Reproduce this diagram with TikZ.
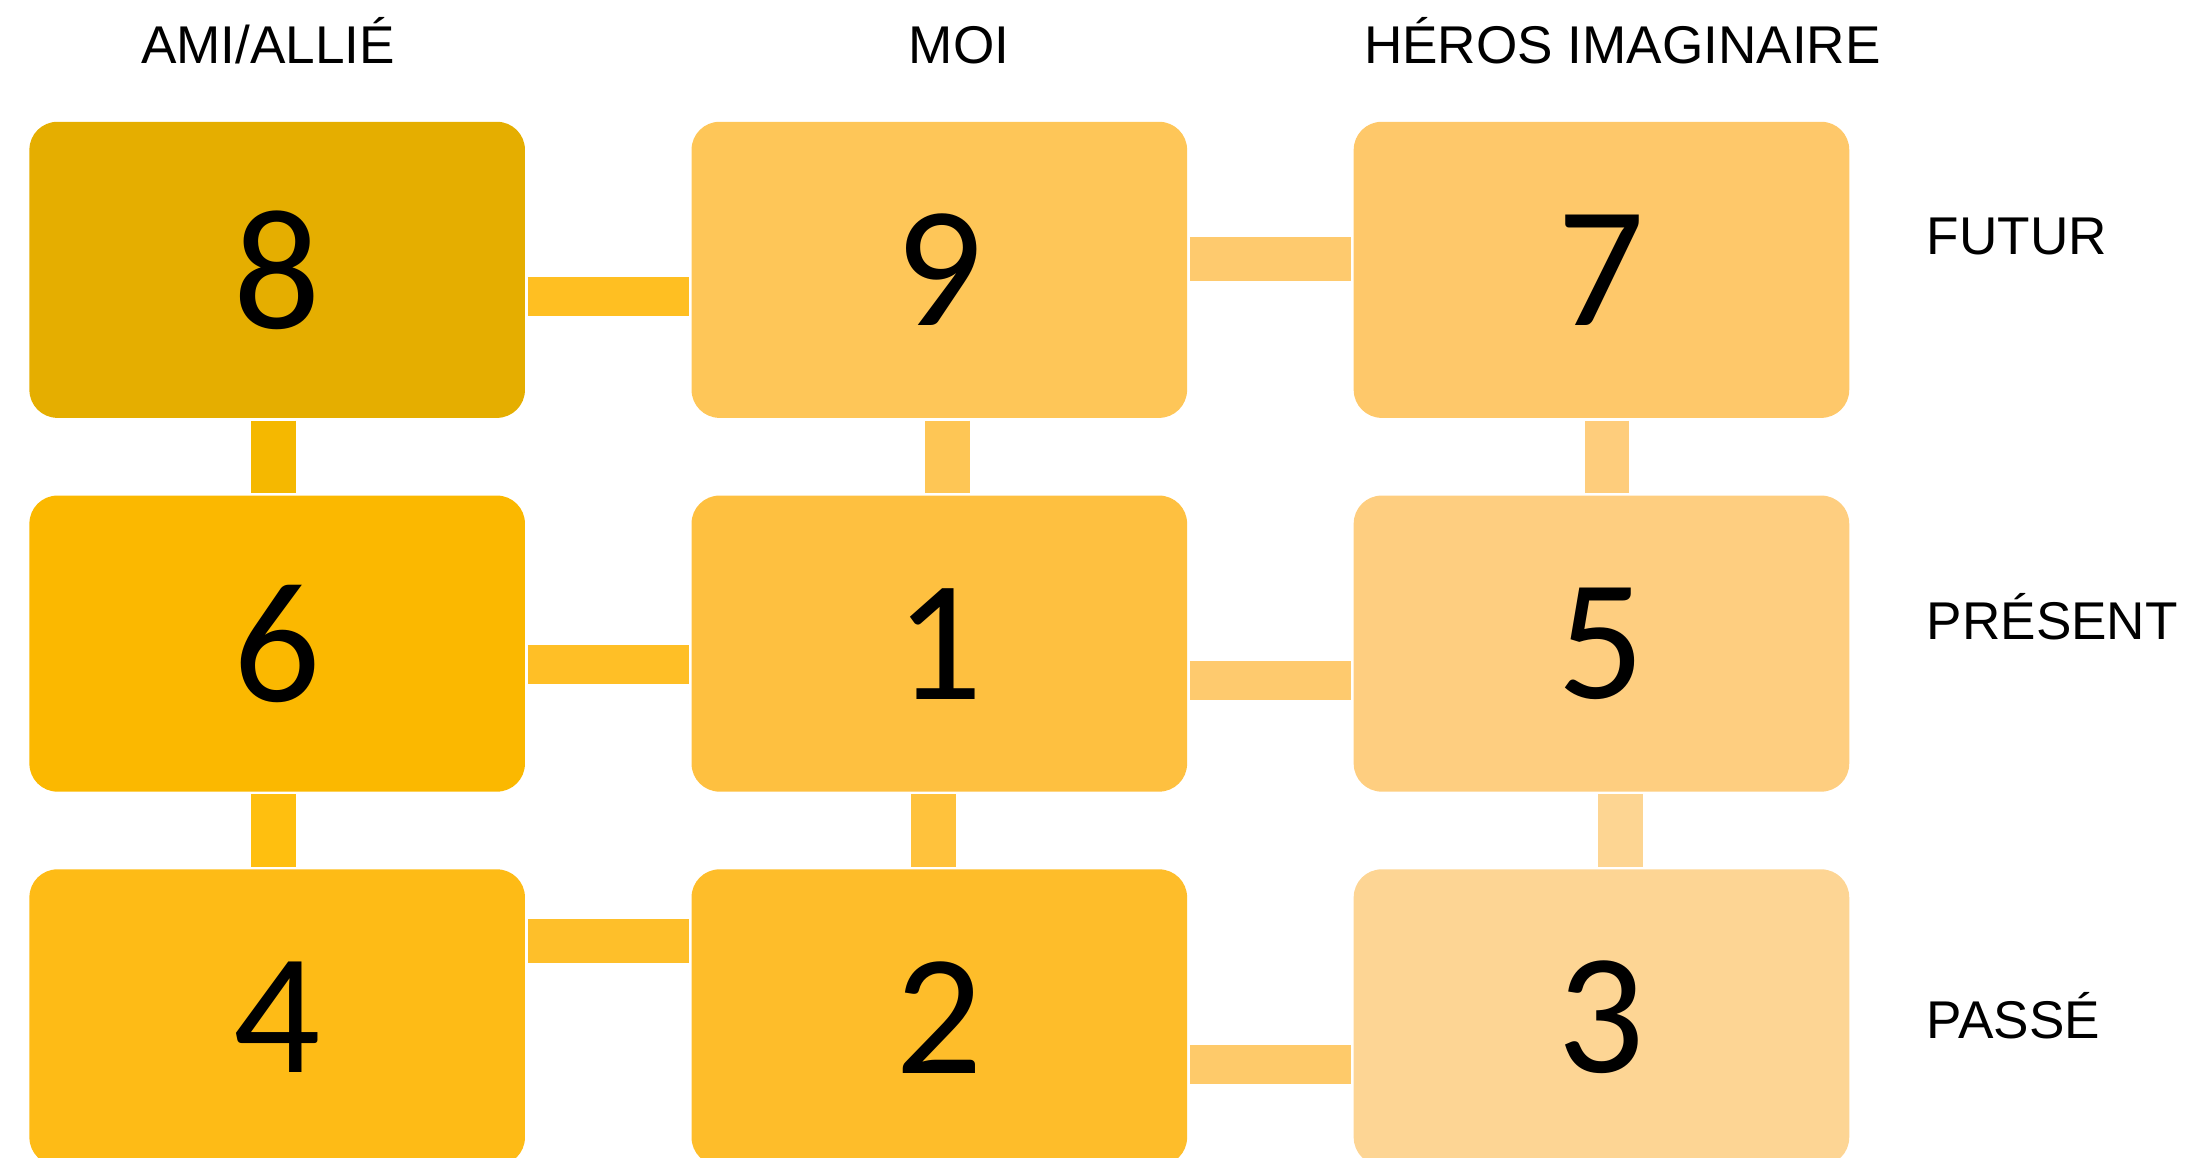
\documentclass[tikz,border=0pt]{standalone}
\usepackage{fontspec}
\setmainfont{Liberation Sans}
\newfontfamily\numfont{Carlito}
\usepackage{tikz}
\usetikzlibrary{positioning}
\definecolor{c8}{HTML}{E5AE00}
\definecolor{c9}{HTML}{FEC658}
\definecolor{c7}{HTML}{FEC86A}
\definecolor{c6}{HTML}{FBB800}
\definecolor{c1}{HTML}{FEC040}
\definecolor{c5}{HTML}{FECE80}
\definecolor{c4}{HTML}{FEBB16}
\definecolor{c2}{HTML}{FEBD2A}
\definecolor{c3}{HTML}{FDD594}
\definecolor{k89}{HTML}{FFBF22}
\definecolor{k97}{HTML}{FECA6E}
\definecolor{k86}{HTML}{F5B800}
\definecolor{k91}{HTML}{FEC655}
\definecolor{k75}{HTML}{FECD7C}
\definecolor{k61}{HTML}{FFBF26}
\definecolor{k15}{HTML}{FECA6E}
\definecolor{k64}{HTML}{FFBF0F}
\definecolor{k12}{HTML}{FFC23C}
\definecolor{k53}{HTML}{FDD592}
\definecolor{k42}{HTML}{FEBF2A}
\definecolor{k23}{HTML}{FECA6A}
\tikzset{
  cell/.style  = {rectangle, rounded corners=4mm, minimum width=70.8mm, minimum height=42.3mm,
                  inner sep=0pt, outer sep=0pt, font=\numfont\fontsize{70}{75}\selectfont},
  hdr/.style   = {font=\fontsize{21.6}{26}\selectfont, inner sep=0pt, anchor=base},
  lvl/.style   = {font=\fontsize{21.6}{26}\selectfont, inner sep=0pt, anchor=base west},
  bar/.style   = {line width=5.6mm, shorten <=0.4mm, shorten >=0.4mm},
  barw/.style  = {line width=6.4mm, shorten <=0.4mm, shorten >=0.4mm},
}
\begin{document}
\begin{tikzpicture}[node distance=11.1mm and 23.8mm]
  \useasboundingbox (0,0) rectangle (31.36,-16.54);
  % grille 3 x 3
  \node[cell, fill=c8] (b8) at (3.96,-3.855) {8};
  \node[cell, fill=c9, right=of b8] (b9) {9};
  \node[cell, fill=c7, right=of b9] (b7) {7};
  \node[cell, fill=c6, below=of b8] (b6) {6};
  \node[cell, fill=c1, right=of b6] (b1) {1};
  \node[cell, fill=c5, right=of b1] (b5) {5};
  \node[cell, fill=c4, below=of b6] (b4) {4};
  \node[cell, fill=c2, right=of b4] (b2) {2};
  \node[cell, fill=c3, right=of b2] (b3) {3};
  % titres
  \node[hdr] (ami) at (3.83,-0.904) {AMI/ALLIÉ};
  \node[hdr] (moi) at (13.7,-0.904) {MOI};
  \node[hdr] (heros) at (23.18,-0.904) {HÉROS IMAGINAIRE};
  \node[lvl] (futur) at (27.52,-3.642) {FUTUR};
  \node[lvl] (present) at (27.52,-9.14) {PRÉSENT};
  \node[lvl] (passe) at (27.52,-14.84) {PASSÉ};
  % liens horizontaux
  \draw[bar, k89] ([yshift=-3.85mm]b8.east) -- ([yshift=-3.85mm]b9.west);
  \draw[barw, k97] ([yshift=1.55mm]b9.east) -- ([yshift=1.55mm]b7.west);
  \draw[bar, k61] ([yshift=-3.0mm]b6.east) -- ([yshift=-3.0mm]b1.west);
  \draw[bar, k15] ([yshift=-5.3mm]b1.east) -- ([yshift=-5.3mm]b5.west);
  \draw[barw, k42] ([yshift=10.9mm]b4.east) -- ([yshift=10.9mm]b2.west);
  \draw[bar, k23] ([yshift=-6.75mm]b2.east) -- ([yshift=-6.75mm]b3.west);
  % liens verticaux
  \draw[barw, k86] ([xshift=-0.5mm]b8.south) -- ([xshift=-0.5mm]b6.north);
  \draw[barw, k64] ([xshift=-0.5mm]b6.south) -- ([xshift=-0.5mm]b4.north);
  \draw[barw, k91] ([xshift=1.2mm]b9.south) -- ([xshift=1.2mm]b1.north);
  \draw[barw, k12] ([xshift=-0.86mm]b1.south) -- ([xshift=-0.86mm]b2.north);
  \draw[barw, k75] ([xshift=0.8mm]b7.south) -- ([xshift=0.8mm]b5.north);
  \draw[barw, k53] ([xshift=2.7mm]b5.south) -- ([xshift=2.7mm]b3.north);
\end{tikzpicture}
\end{document}
